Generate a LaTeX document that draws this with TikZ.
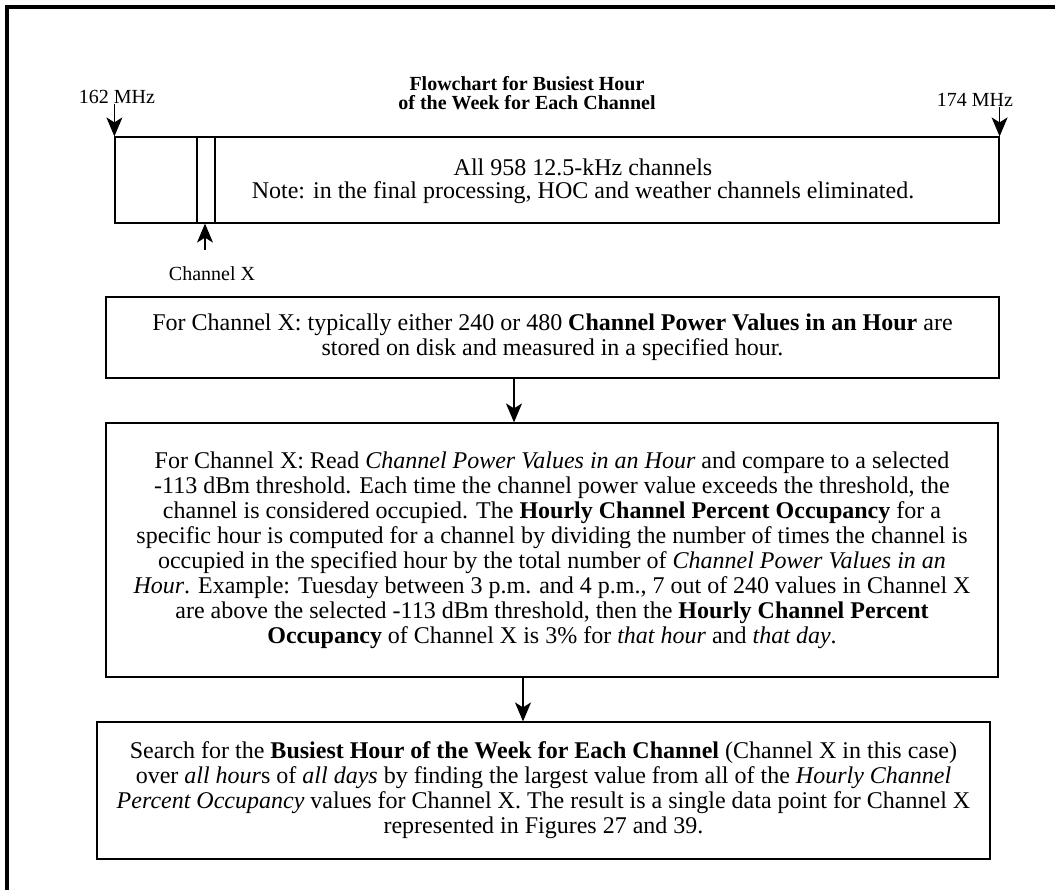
\documentclass[tikz,border=0pt]{standalone}
\usepackage{fontspec}
\setmainfont{Liberation Serif}
\usetikzlibrary{arrows.meta}
\begin{document}
\begin{tikzpicture}[x=0.5pt, y=-0.5pt,
  box/.style={draw, line width=0.6pt, inner sep=0pt, align=center,
    font=\fontsize{12}{12.5}\selectfont},
  lbl/.style={inner sep=0pt, font=\fontsize{10}{10}\selectfont},
  arr/.style={line width=0.6pt, -{Stealth[length=9.5pt, width=8pt, inset=2.5pt]}}]
\useasboundingbox (0,0) rectangle (1055,890);
% outer frame
\draw [line width=1.8pt] (7,890) -- (7,7) -- (1055,7);
% title and band of channels
\node [lbl, align=center, font=\fontsize{10}{9.5}\selectfont\bfseries] (title) at (527,93)
  {Flowchart for Busiest Hour\\of the Week for Each Channel};
\node [box, minimum width=442pt, minimum height=43pt] (band) at (557,180) {};
\node [box, minimum width=9pt, minimum height=43pt] (chX) at (206,180) {};
\node [lbl, align=center, font=\fontsize{12}{11.5}\selectfont] (bandtext) at (583,181)
  {All 958 12.5-kHz channels\\
   Note: in the final processing, HOC and weather channels eliminated.};
\node [lbl] (f162) at (117,97) {162 MHz};
\node [lbl] (f174) at (975,100) {174 MHz};
\node [lbl] (chlabel) at (212,274) {Channel X};
\coordinate (chtail) at (205,250);
\draw [arr] (f162.south -| band.north west) -- (band.north west);
\draw [arr] (f174.south -| band.north east) -- (band.north east);
\draw [arr] (chtail) -- (chtail |- chX.south);
% processing steps
\node [box, minimum width=446.5pt, minimum height=40.5pt] (store) at (552.5,337.5)
  {For Channel X: typically either 240 or 480 \textbf{Channel Power Values in an Hour} are\\
   stored on disk and measured in a specified hour.};
\node [box, minimum width=446pt, minimum height=127pt] (occupancy) at (552,550)
  {For Channel X: Read \textit{Channel Power Values in an Hour} and compare to a selected\\
   -113 dBm threshold. Each time the channel power value exceeds the threshold, the\\
   channel is considered occupied. The \textbf{Hourly Channel Percent Occupancy} for a\\
   specific hour is computed for a channel by dividing the number of times the channel is\\
   occupied in the specified hour by the total number of \textit{Channel Power Values in an}\\
   \textit{Hour}. Example: Tuesday between 3 p.m. and 4 p.m., 7 out of 240 values in Channel X\\
   are above the selected -113 dBm threshold, then the \textbf{Hourly Channel Percent}\\
   \textbf{Occupancy} of Channel X is 3\% for \textit{that hour} and \textit{that day}.};
\node [box, minimum width=446.5pt, minimum height=68.5pt] (busiest) at (543.5,790.5)
  {Search for the \textbf{Busiest Hour of the Week for Each Channel} (Channel X in this case)\\
   over \textit{all hour}s of \textit{all days} by finding the largest value from all of the \textit{Hourly Channel}\\
   \textit{Percent Occupancy} values for Channel X. The result is a single data point for Channel X\\
   represented in Figures 27 and 39.};
\coordinate (a1) at (514,0);
\coordinate (a2) at (523,0);
\draw [arr] (store.south -| a1) -- (occupancy.north -| a1);
\draw [arr] (occupancy.south -| a2) -- (busiest.north -| a2);
\end{tikzpicture}
\end{document}
